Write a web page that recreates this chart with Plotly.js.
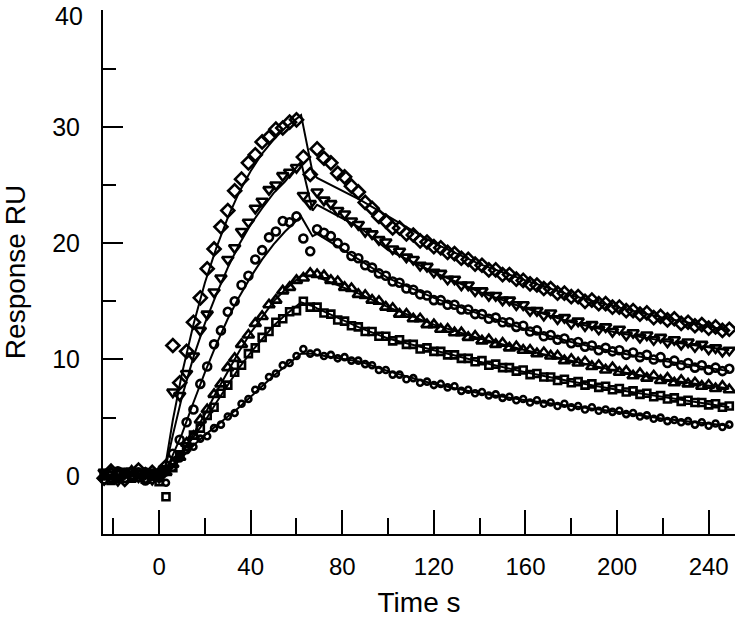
<!DOCTYPE html>
<html>
<head>
<meta charset="utf-8">
<script src="https://cdn.plot.ly/plotly-3.0.1.min.js"></script>
<style>
  html, body { margin: 0; padding: 0; background: #fff; }
  #chart { width: 735px; height: 619px; }
</style>
</head>
<body>
<div id="chart"></div>
<script>
// ─────────────────────────────
// DATOS (sensorgrama, RU vs s)
// ─────────────────────────────
const tiempo = [
  -27, -24, -21, -18, -15, -12, -9, -6, -3, 0,
  3, 6, 9, 12, 15, 18, 21, 24, 27, 30,
  33, 36, 39, 42, 45, 48, 51, 54, 57, 60,
  63, 66, 69, 72, 75, 78, 81, 84, 87, 90,
  93, 96, 99, 102, 105, 108, 111, 114, 117, 120,
  123, 126, 129, 132, 135, 138, 141, 144, 147, 150,
  153, 156, 159, 162, 165, 168, 171, 174, 177, 180,
  183, 186, 189, 192, 195, 198, 201, 204, 207, 210,
  213, 216, 219, 222, 225, 228, 231, 234, 237, 240,
  243, 246, 249
];

const rombos = [
  0.3, -0.2, 0.4, 0.1, -0.3, 0.2, 0.5, -0.1, 0.3, 0.0,
  0.8, 11.2, 8.0, 10.7, 13.2, 15.3, 17.8, 19.5, 21.4, 22.8,
  24.5, 25.5, 26.9, 27.6, 28.7, 29.1, 29.8, 29.9, 30.4, 30.6,
  27.4, 25.9, 28.1, 27.3, 26.9, 26.0, 25.7, 24.9, 24.4, 23.5,
  23.0, 22.3, 21.9, 21.3, 21.3, 20.8, 20.7, 20.2, 20.1, 19.7,
  19.6, 19.2, 19.1, 18.7, 18.6, 18.2, 18.1, 17.7, 17.7, 17.3,
  17.3, 16.9, 16.8, 16.5, 16.4, 16.1, 16.1, 15.7, 15.7, 15.4,
  15.4, 15.0, 15.1, 14.8, 14.8, 14.5, 14.5, 14.2, 14.2, 13.9,
  14.0, 13.6, 13.7, 13.4, 13.5, 13.1, 13.2, 12.9, 13.0, 12.7,
  12.8, 12.5, 12.6
];

const triangulosAbajo = [
  -0.2, 0.3, 0.1, -0.4, 0.2, 0.4, -0.1, 0.2, -0.3, 0.1,
  0.6, 7.2, 6.9, 8.8, 10.3, 12.5, 13.9, 15.8, 17.0, 18.6,
  19.6, 21.0, 21.8, 23.0, 23.6, 24.6, 25.0, 25.8, 26.1, 26.5,
  24.1, 23.4, 24.4, 23.7, 23.4, 22.8, 22.5, 21.9, 21.6, 21.0,
  20.8, 20.3, 20.1, 19.5, 19.3, 18.8, 18.6, 18.1, 18.0, 17.5,
  17.4, 16.9, 16.9, 16.4, 16.4, 15.9, 15.9, 15.5, 15.5, 15.1,
  15.1, 14.7, 14.7, 14.2, 14.2, 13.8, 14.0, 13.5, 13.6, 13.1,
  13.3, 12.9, 13.0, 12.6, 12.8, 12.4, 12.6, 12.1, 12.3, 11.9,
  12.1, 11.7, 11.9, 11.5, 11.7, 11.3, 11.5, 11.1, 11.3, 10.9,
  11.0, 10.7, 10.8
];

const circulos = [
  0.1, -0.3, 0.2, 0.4, -0.2, 0.0, 0.3, -0.4, 0.2, -0.1,
  0.4, 1.9, 3.1, 4.6, 5.7, 7.9, 9.4, 11.3, 12.5, 14.1,
  15.0, 16.4, 17.2, 18.6, 19.4, 20.5, 21.0, 21.9, 21.8, 22.3,
  20.4, 19.3, 21.2, 20.9, 20.6, 20.0, 19.6, 18.9, 18.7, 18.1,
  17.9, 17.4, 17.2, 16.7, 16.6, 16.1, 16.0, 15.6, 15.5, 15.1,
  15.1, 14.7, 14.7, 14.3, 14.3, 13.9, 13.9, 13.5, 13.6, 13.2,
  13.2, 12.8, 12.9, 12.4, 12.5, 12.0, 12.1, 11.7, 11.8, 11.4,
  11.5, 11.1, 11.2, 10.8, 11.0, 10.7, 10.8, 10.4, 10.6, 10.2,
  10.4, 10.0, 10.2, 9.7, 9.9, 9.5, 9.7, 9.3, 9.5, 9.1,
  9.3, 9.0, 9.2
];

const triangulosArriba = [
  0.2, -0.1, 0.3, -0.3, 0.1, 0.4, -0.2, 0.2, 0.0, 0.3,
  0.3, 1.0, 1.6, 2.8, 3.4, 4.8, 5.7, 7.0, 7.9, 9.3,
  10.1, 11.3, 12.1, 13.1, 13.7, 14.7, 15.1, 15.9, 16.2, 16.8,
  17.0, 17.4, 17.3, 17.2, 16.8, 16.7, 16.2, 16.1, 15.6, 15.5,
  15.1, 15.0, 14.5, 14.4, 13.9, 13.9, 13.5, 13.5, 13.0, 13.0,
  12.6, 12.6, 12.3, 12.3, 11.9, 12.0, 11.6, 11.7, 11.3, 11.4,
  11.0, 11.1, 10.8, 10.8, 10.5, 10.6, 10.3, 10.3, 9.9, 10.0,
  9.7, 9.8, 9.4, 9.5, 9.1, 9.3, 8.9, 9.0, 8.6, 8.8,
  8.4, 8.6, 8.2, 8.4, 8.0, 8.2, 7.9, 8.0, 7.7, 7.8,
  7.5, 7.7, 7.4
];

const cuadrados = [
  -0.1, 0.2, -0.4, 0.1, 0.3, -0.2, 0.1, -0.3, 0.2, -0.5,
  -1.8, 0.7, 1.8, 2.5, 3.5, 4.1, 5.2, 5.9, 7.1, 7.8,
  8.9, 9.5, 10.5, 11.0, 11.9, 12.4, 13.2, 13.5, 14.1, 14.2,
  15.0, 14.5, 14.5, 14.0, 13.9, 13.4, 13.3, 12.9, 12.8, 12.4,
  12.4, 12.0, 12.0, 11.6, 11.7, 11.3, 11.3, 10.9, 11.0, 10.7,
  10.7, 10.4, 10.4, 10.1, 10.1, 9.8, 9.9, 9.5, 9.6, 9.3,
  9.3, 9.0, 9.1, 8.7, 8.8, 8.5, 8.5, 8.2, 8.3, 8.0,
  8.1, 7.8, 7.9, 7.6, 7.7, 7.4, 7.5, 7.2, 7.3, 7.0,
  7.1, 6.8, 6.9, 6.6, 6.7, 6.4, 6.5, 6.3, 6.3, 6.1,
  6.2, 5.9, 6.0
];

const circulosChicos = [
  0.2, 0.0, -0.3, 0.3, 0.1, -0.2, 0.2, 0.4, -0.1, 0.1,
  -0.6, 0.7, 1.5, 2.2, 2.5, 3.2, 3.4, 4.1, 4.4, 5.1,
  5.4, 6.2, 6.6, 7.4, 7.7, 8.5, 8.8, 9.5, 9.7, 10.3,
  10.9, 10.5, 10.6, 10.3, 10.4, 10.1, 10.2, 9.9, 9.9, 9.6,
  9.5, 9.1, 9.1, 8.7, 8.7, 8.3, 8.4, 8.0, 8.1, 7.8,
  7.9, 7.6, 7.7, 7.3, 7.4, 7.1, 7.2, 6.9, 7.0, 6.7,
  6.8, 6.5, 6.6, 6.3, 6.5, 6.2, 6.3, 6.0, 6.2, 5.9,
  6.0, 5.7, 5.9, 5.6, 5.7, 5.5, 5.6, 5.3, 5.4, 5.1,
  5.2, 4.9, 5.0, 4.7, 4.8, 4.6, 4.7, 4.4, 4.6, 4.3,
  4.5, 4.2, 4.4
];

// curvas de ajuste (modelo)
const tiempoAjuste = [
  -27, 2, 6, 10, 15, 20, 25, 30, 35, 40, 45, 50, 55,
  62, 67, 69, 88, 100, 120, 140, 160, 180, 200, 220, 249
];
const ajusteRombos = [
  0, 0, 4.8, 8.8, 13.0, 16.6, 19.6, 22.2, 24.4, 26.2, 27.7, 28.9, 29.9,
  31.0, 26.1, 25.6, 23.7, 22.3, 20.0, 18.2, 16.8, 15.5, 14.5, 13.6, 12.5
];
const ajusteTriAbajo = [
  0, 0, 3.5, 6.8, 10.2, 13.1, 15.6, 17.9, 19.9, 21.6, 23.0, 24.3, 25.3,
  27.0, 22.8, 23.3, 21.3, 19.4, 17.5, 15.8, 14.4, 13.2, 12.3, 11.6, 10.8
];
const ajusteCirculos = [
  0, 0, 1.8, 3.6, 6.3, 8.9, 11.3, 13.5, 15.4, 17.1, 18.6, 19.9, 21.0,
  22.3, 20.6, 20.8, 18.5, 17.0, 15.3, 13.9, 12.6, 11.5, 10.6, 9.9, 9.0
];
const ajusteTriArriba = [
  0, 0, 0.9, 2.0, 3.6, 5.3, 7.2, 9.0, 10.7, 12.3, 13.7, 15.0, 16.0,
  17.2, 17.2, 17.1, 15.6, 14.5, 13.0, 11.8, 10.8, 9.9, 9.0, 8.3, 7.5
];
const ajusteCuadrados = [
  0, 0, 0.9, 2.0, 3.3, 4.7, 6.3, 7.8, 9.3, 10.6, 11.8, 12.9, 13.8,
  14.9, 14.6, 14.4, 12.7, 11.8, 10.8, 9.8, 8.9, 8.1, 7.4, 6.8, 5.9
];
const ajusteCirculosChicos = [
  0, 0, 0.7, 1.6, 2.6, 3.5, 4.3, 5.1, 5.9, 6.8, 7.7, 8.6, 9.4,
  10.5, 10.5, 10.4, 9.8, 9.0, 7.9, 7.1, 6.5, 6.0, 5.5, 4.9, 4.3
];

const ticksX = [0, 40, 80, 120, 160, 200, 240];
const ticksY = [0, 10, 20, 30, 40];
// el "40" de arriba va como anotación para que no se corte en el borde
const etiquetasY = ['0', '10', '20', '30', ''];
const etiquetaTope = '40';


// ─────────────────────────────
// TRAZAS
// ─────────────────────────────
const fuente = 'Liberation Sans, Arial, sans-serif';

function _puntos(y, symbol, size) {
  return {
    x: tiempo,
    y,
    type: 'scatter',
    mode: 'markers',
    cliponaxis: false,
    marker: {
      symbol,
      size,
      color: '#000',
      line: { color: '#000', width: 2.6 }
    },
    hoverinfo: 'skip'
  };
}

function _ajuste(y) {
  return {
    x: tiempoAjuste,
    y,
    type: 'scatter',
    mode: 'lines',
    line: { color: '#000', width: 2 },
    hoverinfo: 'skip'
  };
}

const traces = [
  _puntos(rombos, 'diamond-open', 10),
  _puntos(triangulosAbajo, 'triangle-down-open', 10),
  _puntos(circulos, 'circle-open', 8),
  _puntos(triangulosArriba, 'triangle-up-open', 10),
  _puntos(cuadrados, 'square-open', 7),
  _puntos(circulosChicos, 'circle-open', 6),
  _ajuste(ajusteRombos),
  _ajuste(ajusteTriAbajo),
  _ajuste(ajusteCirculos),
  _ajuste(ajusteTriArriba),
  _ajuste(ajusteCuadrados),
  _ajuste(ajusteCirculosChicos)
];


// ─────────────────────────────
// LAYOUT
// ─────────────────────────────
const layout = {
  width: 735,
  height: 619,
  margin: { l: 103, r: 0, t: 10, b: 85 },
  showlegend: false,
  paper_bgcolor: '#fff',
  plot_bgcolor: '#fff',
  font: { family: fuente, color: '#000' },
  xaxis: {
    range: [-24.5, 251.5],
    tickvals: ticksX,
    ticktext: ticksX.map(String),
    ticks: 'inside',
    ticklen: 24,
    tickwidth: 2,
    tickcolor: '#000',
    ticklabelstandoff: 10,
    tickfont: { size: 24, family: fuente },
    minor: { dtick: 20, tick0: 0, ticks: 'inside', ticklen: 16, tickwidth: 2, tickcolor: '#000', showgrid: false },
    showline: true,
    linewidth: 2,
    linecolor: '#000',
    showgrid: false,
    zeroline: false,
    title: { text: 'Time s', font: { size: 28, family: fuente }, standoff: 14 }
  },
  yaxis: {
    range: [-5, 40.04],
    tickvals: ticksY,
    ticktext: etiquetasY,
    ticks: 'inside',
    ticklen: 20,
    tickwidth: 2,
    tickcolor: '#000',
    ticklabelstandoff: 16,
    tickfont: { size: 25, family: fuente },
    minor: { dtick: 5, tick0: 0, ticks: 'inside', ticklen: 13, tickwidth: 2, tickcolor: '#000', showgrid: false },
    showline: true,
    linewidth: 2,
    linecolor: '#000',
    showgrid: false,
    zeroline: false,
    title: { text: 'Response RU', font: { size: 28, family: fuente }, standoff: 20 }
  },
  annotations: [{
    text: etiquetaTope,
    xref: 'paper',
    yref: 'paper',
    x: 0,
    y: 1,
    xanchor: 'right',
    yanchor: 'top',
    xshift: -18,
    yshift: 10,
    showarrow: false,
    font: { size: 25, family: fuente, color: '#000' }
  }]
};

Plotly.newPlot('chart', traces, layout, { staticPlot: true, displayModeBar: false });
</script>
</body>
</html>
